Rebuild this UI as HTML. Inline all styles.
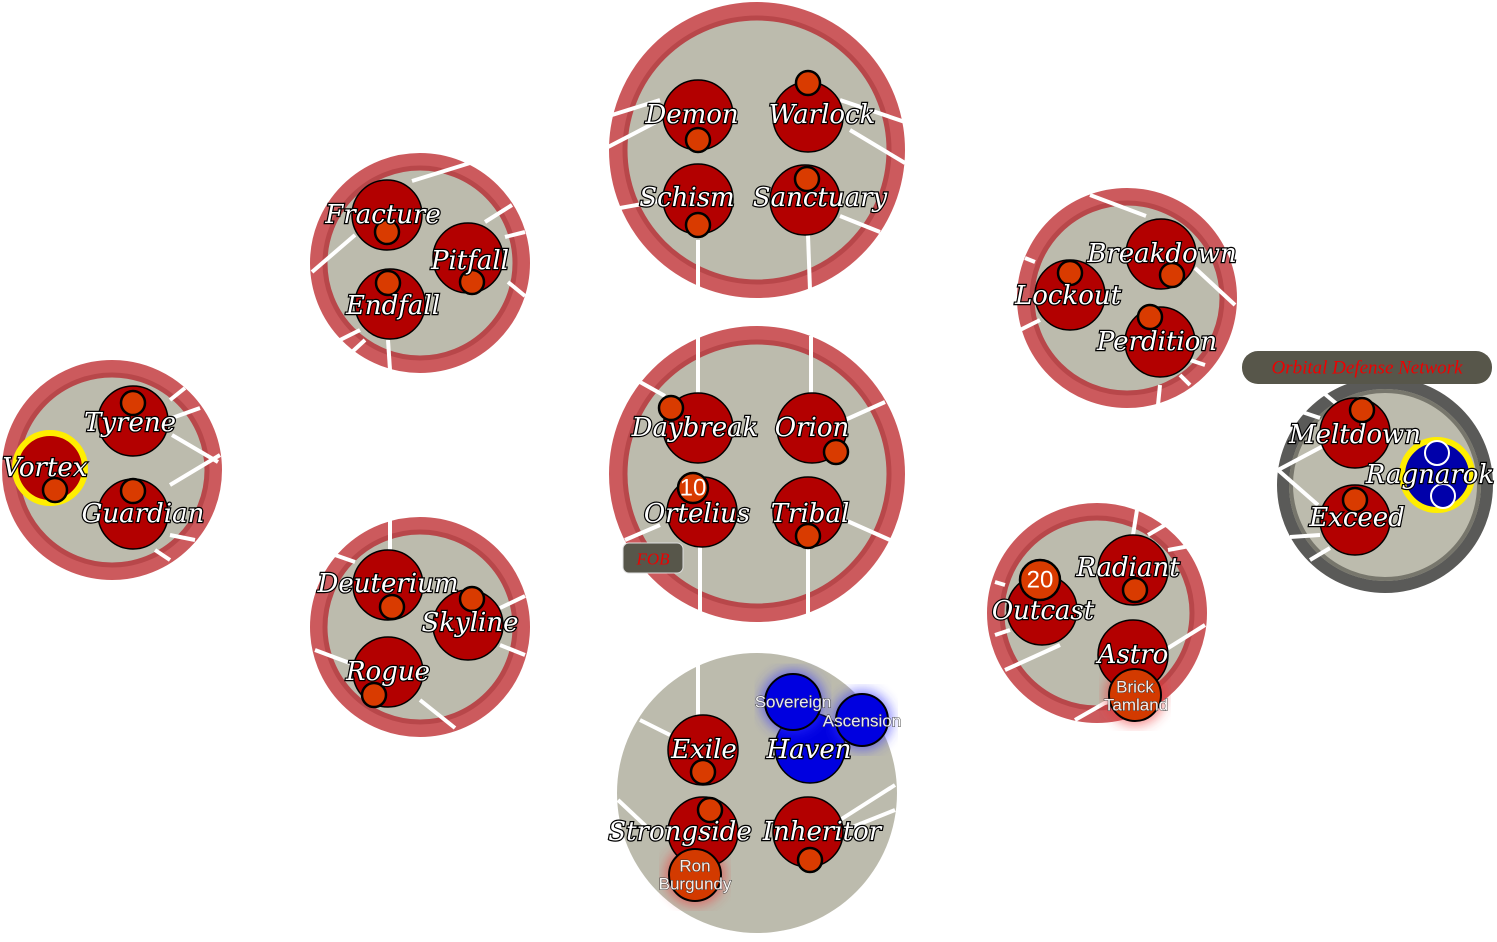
<!DOCTYPE html>
<html><head><meta charset="utf-8"><style>
html,body{margin:0;padding:0;background:#fff;width:1497px;height:942px;overflow:hidden}
svg{display:block}
.t{font-family:"DejaVu Serif","Liberation Serif",serif;font-style:italic;font-size:26px;fill:#fff;stroke:#000;stroke-width:2.4px;paint-order:stroke;text-anchor:middle;dominant-baseline:central}
.s{font-family:"Liberation Sans",sans-serif;font-size:17px;fill:#fff;stroke:#333;stroke-width:1px;paint-order:stroke;text-anchor:middle;dominant-baseline:central;opacity:.9}
.n{font-family:"Liberation Sans",sans-serif;font-size:24px;fill:#fff;text-anchor:middle;dominant-baseline:central}
.p{fill:#b30000;stroke:#000;stroke-width:1.5}
.m{fill:#d93b00;stroke:#000;stroke-width:2.5}
.w{stroke:#fff;stroke-width:4;stroke-linecap:butt}
.g{fill:#bcbbad;stroke:#cc5a5d;stroke-width:14}
.gi{fill:none;stroke:#b8474a;stroke-width:5}
</style></head><body>
<svg width="1497" height="942" viewBox="0 0 1497 942" xmlns="http://www.w3.org/2000/svg">
<defs>
<filter id="bl"><feGaussianBlur stdDeviation="6"/></filter>
</defs>
<!-- Group top -->
<circle class="g" cx="757" cy="150" r="141"/><circle class="gi" cx="757" cy="150" r="132"/>
<g class="w"><line x1="612" y1="115" x2="660" y2="100"/><line x1="608" y1="147" x2="660" y2="120"/><line x1="620" y1="208" x2="665" y2="200"/><line x1="698" y1="240" x2="698" y2="290"/><line x1="808" y1="235" x2="810" y2="290"/><line x1="840" y1="216" x2="880" y2="232"/><line x1="840" y1="100" x2="905" y2="122"/><line x1="850" y1="130" x2="905" y2="163"/></g>
<circle class="p" cx="698" cy="115" r="35"/><circle class="m" cx="698" cy="140" r="12"/>
<circle class="p" cx="808" cy="117" r="35"/><circle class="m" cx="808" cy="83" r="12"/>
<circle class="p" cx="698" cy="199" r="35"/><circle class="m" cx="698" cy="225" r="12"/>
<circle class="p" cx="805" cy="200" r="35"/><circle class="m" cx="807" cy="179" r="12"/>
<text class="t" x="692" y="115">Demon</text><text class="t" x="822" y="115">Warlock</text>
<text class="t" x="687" y="198">Schism</text><text class="t" x="820" y="198">Sanctuary</text>

<!-- Fracture group -->
<circle class="g" cx="420" cy="263" r="103"/><circle class="gi" cx="420" cy="263" r="95"/>
<g class="w"><line x1="412" y1="181" x2="470" y2="163"/><line x1="485" y1="222" x2="512" y2="205"/><line x1="505" y1="237" x2="525" y2="232"/><line x1="508" y1="282" x2="525" y2="296"/><line x1="355" y1="235" x2="312" y2="272"/><line x1="360" y1="330" x2="340" y2="340"/><line x1="365" y1="340" x2="352" y2="352"/><line x1="388" y1="340" x2="390" y2="370"/></g>
<circle class="p" cx="387" cy="215" r="35"/><circle class="m" cx="387" cy="232" r="12"/>
<circle class="p" cx="468" cy="258" r="35"/><circle class="m" cx="472" cy="282" r="12"/>
<circle class="p" cx="390" cy="304" r="35"/><circle class="m" cx="388" cy="283" r="12"/>
<text class="t" x="383" y="215">Fracture</text><text class="t" x="470" y="261">Pitfall</text><text class="t" x="393" y="306">Endfall</text>

<!-- Vortex group -->
<circle class="g" cx="112" cy="470" r="103"/><circle class="gi" cx="112" cy="470" r="95"/>
<g class="w"><line x1="170" y1="400" x2="185" y2="388"/><line x1="172" y1="418" x2="200" y2="408"/><line x1="172" y1="435" x2="218" y2="462"/><line x1="170" y1="485" x2="220" y2="455"/><line x1="170" y1="535" x2="195" y2="540"/><line x1="155" y1="550" x2="170" y2="560"/></g>
<circle class="p" cx="133" cy="421" r="35"/><circle class="m" cx="133" cy="403" r="12"/>
<circle cx="50" cy="468" r="35" fill="#b30000" stroke="#ffee00" stroke-width="6"/><circle class="m" cx="55" cy="490" r="12"/>
<circle class="p" cx="133" cy="514" r="35"/><circle class="m" cx="133" cy="491" r="12"/>
<text class="t" x="130" y="423">Tyrene</text><text class="t" x="45" y="468">Vortex</text><text class="t" x="143" y="514">Guardian</text>

<!-- Deuterium group -->
<circle class="g" cx="420" cy="627" r="103"/><circle class="gi" cx="420" cy="627" r="95"/>
<g class="w"><line x1="390" y1="520" x2="390" y2="550"/><line x1="335" y1="555" x2="355" y2="562"/><line x1="500" y1="608" x2="525" y2="596"/><line x1="500" y1="645" x2="525" y2="655"/><line x1="420" y1="700" x2="455" y2="728"/><line x1="315" y1="650" x2="355" y2="665"/></g>
<circle class="p" cx="388" cy="585" r="35"/><circle class="m" cx="392" cy="607" r="12"/>
<circle class="p" cx="468" cy="625" r="35"/><circle class="m" cx="472" cy="599" r="12"/>
<circle class="p" cx="388" cy="672" r="35"/><circle class="m" cx="374" cy="695" r="12"/>
<text class="t" x="388" y="584">Deuterium</text><text class="t" x="470" y="623">Skyline</text><text class="t" x="388" y="672">Rogue</text>

<!-- Center group -->
<circle class="g" cx="757" cy="474" r="141"/><circle class="gi" cx="757" cy="474" r="132"/>
<g class="w"><line x1="698" y1="336" x2="698" y2="393"/><line x1="811" y1="336" x2="811" y2="393"/><line x1="640" y1="382" x2="665" y2="396"/><line x1="845" y1="420" x2="885" y2="402"/><line x1="845" y1="520" x2="890" y2="540"/><line x1="660" y1="525" x2="625" y2="540"/><line x1="700" y1="547" x2="700" y2="615"/><line x1="808" y1="548" x2="808" y2="615"/></g>
<circle class="p" cx="698" cy="428" r="35"/><circle class="m" cx="671" cy="408" r="12"/>
<circle class="p" cx="812" cy="428" r="35"/><circle class="m" cx="836" cy="452" r="12"/>
<circle class="p" cx="702" cy="512" r="35"/><circle class="m" cx="693" cy="488" r="15"/><text class="n" x="693" y="488">10</text>
<circle class="p" cx="808" cy="512" r="35"/><circle class="m" cx="808" cy="536" r="12"/>
<text class="t" x="695" y="428">Daybreak</text><text class="t" x="812" y="428">Orion</text>
<text class="t" x="697" y="514">Ortelius</text><text class="t" x="810" y="514">Tribal</text>
<rect x="623" y="543" width="60" height="30" rx="6" fill="#57564a" stroke="#ddd" stroke-width="1"/>
<text x="653" y="559" font-family="Liberation Serif,serif" font-style="italic" font-size="17" fill="#e00" text-anchor="middle" dominant-baseline="central">FOB</text>

<!-- Bottom group -->
<circle cx="757" cy="793" r="140" fill="#bcbbad"/>
<g class="w"><line x1="698" y1="660" x2="698" y2="715"/><line x1="640" y1="720" x2="670" y2="735"/><line x1="618" y1="800" x2="650" y2="830"/><line x1="840" y1="820" x2="895" y2="785"/><line x1="845" y1="830" x2="895" y2="810"/></g>
<circle cx="695" cy="875" r="30" fill="#e33" opacity=".6" filter="url(#bl)"/>
<circle class="p" cx="703" cy="750" r="35"/><circle class="m" cx="703" cy="772" r="12"/>
<circle cx="810" cy="748" r="35" fill="#0000e0" stroke="#000" stroke-width="1.5"/>
<circle class="p" cx="703" cy="832" r="35"/><circle class="m" cx="710" cy="810" r="12"/>
<circle class="p" cx="808" cy="832" r="35"/><circle class="m" cx="810" cy="860" r="12"/>
<circle cx="793" cy="702" r="32" fill="#33f" opacity=".6" filter="url(#bl)"/>
<circle cx="862" cy="720" r="30" fill="#33f" opacity=".6" filter="url(#bl)"/>
<circle cx="793" cy="702" r="28" fill="#0000e0" stroke="#000" stroke-width="2"/>
<circle cx="862" cy="720" r="26" fill="#0000e0" stroke="#000" stroke-width="2"/>
<circle cx="695" cy="875" r="26" fill="#d33a00" stroke="#000" stroke-width="2"/>
<text class="t" x="704" y="750">Exile</text><text class="t" x="809" y="750">Haven</text>
<text class="t" x="680" y="832">Strongside</text><text class="t" x="822" y="832">Inheritor</text>
<text class="s" x="793" y="702">Sovereign</text><text class="s" x="862" y="721">Ascension</text>
<text class="s" x="695" y="866">Ron</text><text class="s" x="695" y="884">Burgundy</text>

<!-- Breakdown group -->
<circle class="g" cx="1127" cy="298" r="103"/><circle class="gi" cx="1127" cy="298" r="95"/>
<g class="w"><line x1="1090" y1="195" x2="1146" y2="216"/><line x1="1025" y1="258" x2="1035" y2="262"/><line x1="1040" y1="320" x2="1020" y2="330"/><line x1="1195" y1="268" x2="1235" y2="305"/><line x1="1190" y1="360" x2="1205" y2="365"/><line x1="1180" y1="375" x2="1190" y2="385"/><line x1="1160" y1="385" x2="1158" y2="405"/></g>
<circle class="p" cx="1161" cy="254" r="35"/><circle class="m" cx="1172" cy="275" r="12"/>
<circle class="p" cx="1070" cy="295" r="35"/><circle class="m" cx="1070" cy="273" r="12"/>
<circle class="p" cx="1160" cy="342" r="35"/><circle class="m" cx="1150" cy="317" r="12"/>
<text class="t" x="1162" y="254">Breakdown</text><text class="t" x="1068" y="296">Lockout</text><text class="t" x="1157" y="342">Perdition</text>

<!-- Radiant group -->
<circle class="g" cx="1097" cy="613" r="103"/><circle class="gi" cx="1097" cy="613" r="95"/>
<g class="w"><line x1="1137" y1="510" x2="1133" y2="535"/><line x1="1148" y1="535" x2="1165" y2="525"/><line x1="1168" y1="550" x2="1195" y2="545"/><line x1="1165" y1="650" x2="1205" y2="625"/><line x1="1060" y1="645" x2="1005" y2="670"/><line x1="1005" y1="585" x2="995" y2="582"/><line x1="1010" y1="630" x2="995" y2="635"/><line x1="1110" y1="700" x2="1075" y2="720"/></g>
<circle cx="1135" cy="695" r="30" fill="#e33" opacity=".6" filter="url(#bl)"/>
<circle class="p" cx="1133" cy="570" r="35"/><circle class="m" cx="1135" cy="590" r="12"/>
<circle class="p" cx="1042" cy="610" r="35"/>
<circle class="p" cx="1133" cy="655" r="35"/>
<circle class="m" cx="1040" cy="580" r="20"/><text class="n" x="1040" y="580">20</text>
<circle cx="1135" cy="695" r="26" fill="#d33a00" stroke="#000" stroke-width="2"/>
<text class="t" x="1128" y="568">Radiant</text><text class="t" x="1043" y="611">Outcast</text><text class="t" x="1133" y="655">Astro</text>
<text class="s" x="1135" y="687">Brick</text><text class="s" x="1136" y="705">Tamland</text>

<!-- ODN group -->
<circle cx="1385" cy="485" r="102" fill="#bcbbad" stroke="#5a5a58" stroke-width="12"/>
<circle cx="1385" cy="485" r="94" fill="none" stroke="#77766c" stroke-width="4"/>
<g class="w"><line x1="1320" y1="390" x2="1338" y2="405"/><line x1="1296" y1="410" x2="1320" y2="418"/><line x1="1278" y1="470" x2="1325" y2="445"/><line x1="1278" y1="470" x2="1318" y2="505"/><line x1="1290" y1="537" x2="1320" y2="535"/><line x1="1310" y1="560" x2="1330" y2="548"/></g>
<circle class="p" cx="1355" cy="433" r="35"/><circle class="m" cx="1362" cy="410" r="12"/>
<circle class="p" cx="1355" cy="520" r="35"/><circle class="m" cx="1355" cy="500" r="12"/>
<circle cx="1437" cy="475" r="35" fill="#0000aa" stroke="#ffee00" stroke-width="6"/>
<circle cx="1437" cy="453" r="12" fill="#0000aa" stroke="#fff" stroke-width="2"/>
<circle cx="1443" cy="496" r="12" fill="#0000aa" stroke="#fff" stroke-width="2"/>
<text class="t" x="1355" y="435">Meltdown</text><text class="t" x="1430" y="475">Ragnarok</text><text class="t" x="1357" y="518">Exceed</text>
<rect x="1242" y="351" width="250" height="33" rx="16" fill="#57564a"/>
<text x="1367" y="368" font-family="Liberation Serif,serif" font-style="italic" font-size="19" fill="#e00" text-anchor="middle" dominant-baseline="central">Orbital Defense Network</text>
</svg>
</body></html>
